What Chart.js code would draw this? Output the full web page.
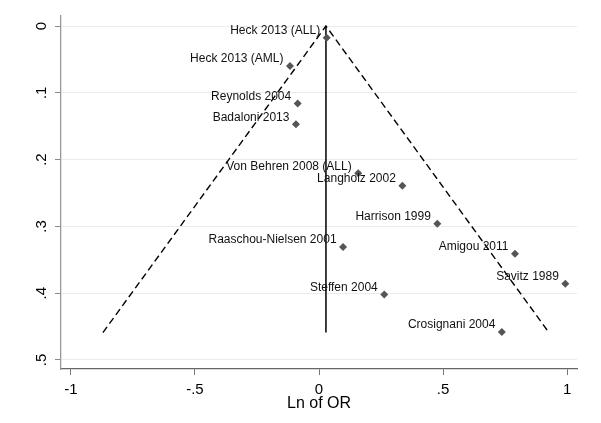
<!DOCTYPE html>
<html>
<head>
<meta charset="utf-8">
<script src="https://cdn.jsdelivr.net/npm/chart.js@4"></script>
<style>
  body { margin:0; background:#fff; }
  #c { display:block; }
</style>
</head>
<body>
<canvas id="c" width="601" height="423"></canvas>
<script>
// ---- data ----
const studies = ["Heck 2013 (ALL)", "Heck 2013 (AML)", "Reynolds 2004", "Badaloni 2013",
  "Von Behren 2008 (ALL)", "Langholz 2002", "Harrison 1999", "Raaschou-Nielsen 2001",
  "Amigou 2011", "Savitz 1989", "Steffen 2004", "Crosignani 2004"];
const lnOR  = [0.031, -0.117, -0.086, -0.093, 0.158, 0.336, 0.477, 0.097, 0.790, 0.993, 0.263, 0.737];
const seLnOR = [0.0175, 0.060, 0.116, 0.147, 0.2205, 0.239, 0.296, 0.331, 0.341, 0.386, 0.402, 0.458];
// pseudo 95% CI funnel + pooled estimate
const funnelX = [-0.871, 0.028, 0.927];
const funnelY = [0.459, 0, 0.459];
const pooledX = [0.028, 0.028];
const pooledY = [0, 0.459];
const xTicks = [-1, -0.5, 0, 0.5, 1];
const xTickLabels = ["-1", "-.5", "0", ".5", "1"];
const yTicks = [0, 0.1, 0.2, 0.3, 0.4, 0.5];
const yTickLabels = ["0", ".1", ".2", ".3", ".4", ".5"];

const FONT = "'Liberation Sans', Arial, sans-serif";
const pts = (xs, ys) => xs.map((x, i) => ({x, y: ys[i]}));

const studyLabels = {
  id: "studyLabels",
  afterDatasetsDraw(chart) {
    const ctx = chart.ctx;
    ctx.save();
    ctx.font = "12px " + FONT;
    ctx.fillStyle = "#111";
    ctx.textAlign = "right"; ctx.textBaseline = "middle";
    chart.getDatasetMeta(0).data.forEach((p, i) => ctx.fillText(studies[i], p.x - 6.5, p.y - 7));
    // rotated y tick labels (Stata style)
    const y = chart.scales.y;
    ctx.font = "15px " + FONT;
    ctx.fillStyle = "#000";
    ctx.textAlign = "center";
    yTicks.forEach((v, i) => {
      ctx.save();
      ctx.translate(42, y.getPixelForValue(v));
      ctx.rotate(-Math.PI / 2);
      ctx.fillText(yTickLabels[i], 0, 0);
      ctx.restore();
    });
    ctx.restore();
  }
};

new Chart(document.getElementById("c"), {
  type: "scatter",
  data: { datasets: [
    {label: "studies", data: pts(lnOR, seLnOR), pointStyle: "rectRot", pointRadius: 4,
     backgroundColor: "#555", borderColor: "#555", borderWidth: 0, order: 0},
    {label: "funnel", data: pts(funnelX, funnelY), showLine: true, pointRadius: 0,
     borderColor: "#000", borderWidth: 1.4, borderDash: [7, 4], order: 1},
    {label: "pooled", data: pts(pooledX, pooledY), showLine: true, pointRadius: 0,
     borderColor: "#000", borderWidth: 1.5, order: 2}
  ]},
  options: {
    responsive: false, animation: false,
    layout: {padding: {left: 0, right: 24, top: 16, bottom: 0}},
    plugins: {legend: {display: false}, tooltip: {enabled: false}},
    scales: {
      x: {
        type: "linear", min: -1.04, max: 1.04,
        afterBuildTicks: s => { s.ticks = xTicks.map(v => ({value: v})); },
        afterFit: s => { s.height = 54; },
        ticks: {callback: (v) => xTickLabels[xTicks.indexOf(v)], color: "#000", padding: 6,
                maxRotation: 0, font: {family: FONT, size: 15}},
        grid: {color: "rgba(0,0,0,0)", tickColor: "#777", tickLength: 6, drawTicks: true},
        border: {display: true, color: "#666", width: 1.3},
        title: {display: true, text: "Ln of OR", color: "#000", font: {family: FONT, size: 16},
                padding: {top: 0, bottom: 10}}
      },
      y: {
        type: "linear", reverse: true, min: -0.015, max: 0.5135,
        afterBuildTicks: s => { s.ticks = yTicks.map(v => ({value: v})); },
        afterFit: s => { s.width = 61; },
        ticks: {color: "rgba(0,0,0,0)", font: {family: FONT, size: 15}},
        grid: {color: "#ebebeb", tickColor: "#888", tickLength: 6, drawTicks: true},
        border: {display: true, color: "#999", width: 1.3}
      }
    }
  },
  plugins: [studyLabels]
});
</script>
</body>
</html>
